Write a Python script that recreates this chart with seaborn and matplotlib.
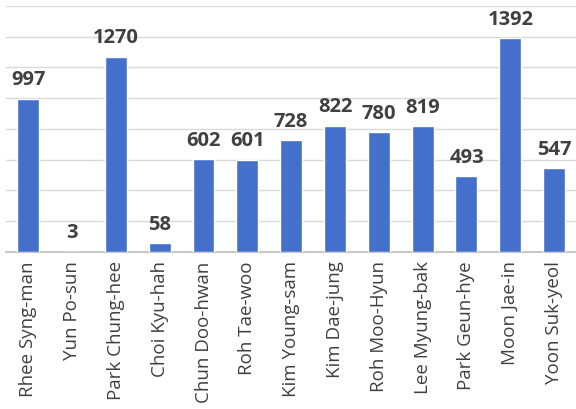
import matplotlib
matplotlib.use("Agg")
import matplotlib.pyplot as plt
import pandas as pd
import seaborn as sns

presidents = ["Rhee Syng-man", "Yun Po-sun", "Park Chung-hee", "Choi Kyu-hah",
              "Chun Doo-hwan", "Roh Tae-woo", "Kim Young-sam", "Kim Dae-jung",
              "Roh Moo-Hyun", "Lee Myung-bak", "Park Geun-hye", "Moon Jae-in",
              "Yoon Suk-yeol"]
counts = [997, 3, 1270, 58, 602, 601, 728, 822, 780, 819, 493, 1392, 547]

df = pd.DataFrame({"president": presidents, "count": counts})

sns.set_style("white")
plt.rcParams["font.family"] = ["Open Sans", "DejaVu Sans"]

fig = plt.figure(figsize=(5.76, 4.10), dpi=100)
ax = fig.add_axes([0.011, 0.383, 0.989, 0.600])

sns.barplot(data=df, x="president", y="count", color="#4470cc", width=0.5,
            saturation=1, ax=ax, zorder=3)

ax.set_ylim(0, 1600)
ax.set_yticks(range(0, 1601, 200))
ax.yaxis.grid(True, color="#d9d9d9", linewidth=1, zorder=0)
ax.set_yticklabels([])
ax.tick_params(axis="y", length=0)
ax.tick_params(axis="x", length=0, pad=6, labelrotation=90, labelsize=13.5,
               labelcolor="#404040")
ax.set_xlabel("")
ax.set_ylabel("")
for s in ["top", "right", "left"]:
    ax.spines[s].set_visible(False)
ax.spines["bottom"].set_color("#c8c8c8")
ax.spines["bottom"].set_linewidth(1.5)

for i, v in enumerate(counts):
    ax.text(i, v + 60, str(v), ha="center", va="bottom", fontsize=14.5,
            fontweight="bold", color="#404040")

fig.savefig("out.png", dpi=100)
